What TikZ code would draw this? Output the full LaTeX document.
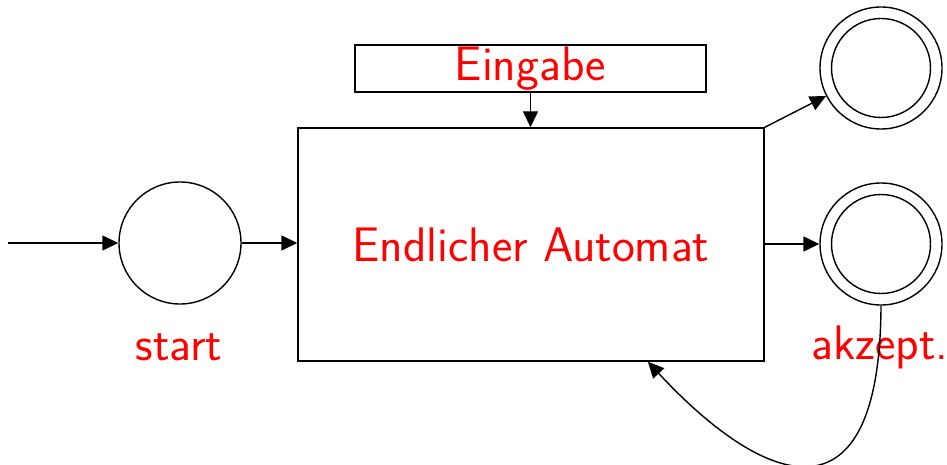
\documentclass[tikz,border=0pt]{standalone}
\usetikzlibrary{arrows.meta,calc}
\begin{document}
\begin{tikzpicture}[x=1pt,y=-1pt,
  every node/.style={font=\fontsize{48.5}{55}\selectfont\sffamily},
  lbl/.style={text=red,inner sep=0pt},
  conn/.style={line width=1.4pt,-{Triangle[length=16pt,width=15pt]}},
  state/.style={circle,draw,line width=1.4pt,minimum size=122pt,inner sep=0pt},
  accept/.style={state,path picture={\draw[line width=1.4pt] (path picture bounding box.center) circle (49.5pt);}},
  boxnode/.style={draw,line width=1.4pt,inner sep=0pt,text=red}]
\useasboundingbox (0,0) rectangle (947,465);
\coordinate (in) at (8,243);
\node[state] (s) at (180,243) {};
\node[boxnode,minimum width=466pt,minimum height=233pt] (fa) at (531,244.5) {Endlicher Automat};
\node[boxnode,minimum width=351pt,minimum height=47pt] (eg) at (530.5,68.5) {Eingabe};
\node[accept] (a1) at (881,68) {};
\node[accept] (a2) at (881,244) {};
\node[lbl,anchor=base] (ls) at (179,360) {start};
\node[lbl,anchor=base] (la) at (880,359) {akzept.};
\draw[conn] (in) -- (s);
\draw[conn] (s) -- (fa.west |- s);
\draw[conn] (eg.south) -- (eg.south |- fa.north);
\draw[conn] (fa.north east) -- (a1);
\draw[conn] (fa.east |- a2) -- (a2);
\draw[conn] (a2.south) .. controls (880,530) and (765,488) .. ($(fa.south west)!0.75!(fa.south east)$);
\end{tikzpicture}
\end{document}
